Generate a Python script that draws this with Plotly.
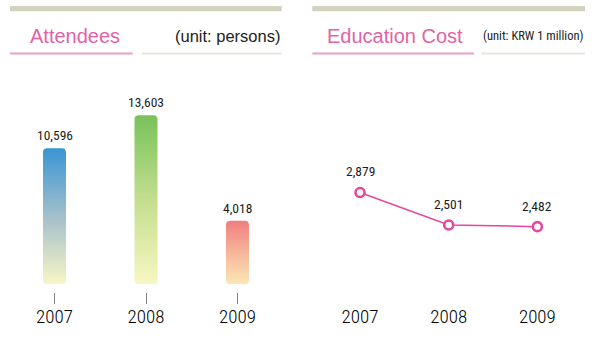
import math
import plotly.graph_objects as go

# ---- data ----
YEARS = ["2007", "2008", "2009"]
ATTENDEES = [10596, 13603, 4018]
EDU_COST = [2879, 2501, 2482]

# ---- styling ----
W, H = 594, 338
PINK = "#e4479b"
TITLE_PINK = "#e262a6"
BAR_GRADIENTS = [
    [[0, "#f8f6c6"], [0.5, "#a3bfcb"], [1, "#3a95d3"]],
    [[0, "#f8f7c2"], [0.5, "#c3de8e"], [1, "#78c25a"]],
    [[0, "#fce7b6"], [0.5, "#f6b69a"], [1, "#ee7e80"]],
]
NUM_FONT = "Roboto Condensed, Liberation Sans Narrow, DejaVu Sans Condensed, sans-serif"
TXT_FONT = "Liberation Sans, Arial, sans-serif"

# left value axis: bars rise from the bottom of the axis
LEFT_RANGE = [-1769, 14993]
RIGHT_RANGE = [1628.8, 3954.4]


def px_x(p):
    return p / W


def px_y(p):
    return 1 - p / H


fig = go.Figure()

# ---- gradient bars (rounded rectangles built from each value) ----
half_w = 0.1257
units_per_px_x = 1 / 91.5
units_per_px_y = (LEFT_RANGE[1] - LEFT_RANGE[0]) / 184.3
rx = 3.5 * units_per_px_x
ry = 3.5 * units_per_px_y


def rounded_rect(x0, x1, y0, y1):
    pts = []
    corners = [
        (x1 - rx, y1 - ry, 0, 90),
        (x0 + rx, y1 - ry, 90, 180),
        (x0 + rx, y0 + ry, 180, 270),
        (x1 - rx, y0 + ry, 270, 360),
    ]
    for cx, cy, a0, a1 in corners:
        for k in range(7):
            a = math.radians(a0 + (a1 - a0) * k / 6)
            pts.append((cx + rx * math.cos(a), cy + ry * math.sin(a)))
    pts.append(pts[0])
    return [p[0] for p in pts], [p[1] for p in pts]


label_font = dict(family=NUM_FONT, size=13.5, color="#1c1c1c", weight=400)

for i, (v, grad) in enumerate(zip(ATTENDEES, BAR_GRADIENTS)):
    xs, ys = rounded_rect(i - half_w, i + half_w, LEFT_RANGE[0], v)
    fig.add_trace(go.Scatter(
        x=xs, y=ys, mode="lines", fill="toself",
        line=dict(width=0, color="rgba(0,0,0,0)"),
        fillgradient=dict(type="vertical", colorscale=grad,
                          start=LEFT_RANGE[0], stop=v),
        hoverinfo="skip", showlegend=False,
        xaxis="x", yaxis="y",
    ))
    fig.add_annotation(
        x=i, y=v, xref="x", yref="y", text=f"{v:,}", showarrow=False,
        yanchor="middle", yshift=13, font=label_font,
    )

# ---- education cost line ----
fig.add_trace(go.Scatter(
    x=list(range(len(YEARS))), y=EDU_COST, mode="lines+markers",
    line=dict(color=PINK, width=1.5),
    marker=dict(symbol="circle", size=9, color="white",
                line=dict(color=PINK, width=2.6)),
    hoverinfo="skip", showlegend=False,
    xaxis="x2", yaxis="y2",
))
for i, v in enumerate(EDU_COST):
    fig.add_annotation(
        x=i, y=v, xref="x2", yref="y2", text=f"{v:,}", showarrow=False,
        yanchor="middle", yshift=21, font=label_font,
    )

# ---- header decorations ----
shapes = []


def rect(x0, x1, y0, y1, color):
    shapes.append(dict(type="rect", xref="paper", yref="paper",
                       x0=px_x(x0), x1=px_x(x1), y0=px_y(y1), y1=px_y(y0),
                       fillcolor=color, line=dict(width=0), layer="below"))


rect(10, 281.7, 6, 11.3, "#d3d1c0")
rect(312.3, 585, 6, 11.3, "#d3d1c0")
rect(10, 132.7, 52.6, 54.4, "#ee9dca")
rect(142, 281.7, 52.6, 54.4, "#e6e6de")
rect(312.3, 474, 52.6, 54.4, "#ee9dca")
rect(481, 585, 52.6, 54.4, "#e6e6de")

headers = [
    (28, "Attendees", "left", TXT_FONT, 20, TITLE_PINK),
    (281.5, "(unit: persons)", "right", TXT_FONT, 16.5, "#222222"),
    (325, "Education Cost", "left", TXT_FONT, 20, TITLE_PINK),
    (584.5, "(unit: KRW 1 million)", "right", NUM_FONT, 12.5, "#222222"),
]
for x, text, anchor, fam, size, color in headers:
    fig.add_annotation(
        x=px_x(x), y=px_y(36), xref="paper", yref="paper", text=text,
        showarrow=False, xanchor=anchor, yanchor="middle",
        font=dict(family=fam, size=size, color=color),
    )

axis_pos = px_y(291.7)
tick_font = dict(family=NUM_FONT, size=19, color="#000000", weight=300)

fig.update_layout(
    width=W, height=H,
    margin=dict(l=0, r=0, t=0, b=0),
    paper_bgcolor="white", plot_bgcolor="rgba(0,0,0,0)",
    shapes=shapes,
    xaxis=dict(domain=[px_x(8.75), px_x(283.25)], range=[-0.5, 2.5],
               anchor="free", position=axis_pos,
               tickvals=[0, 1, 2], ticktext=YEARS,
               ticks="outside", ticklen=11.6, tickwidth=1, tickcolor="#808080",
               ticklabelstandoff=-4,
               showline=False, showgrid=False, zeroline=False,
               tickfont=tick_font, fixedrange=True),
    yaxis=dict(domain=[px_y(284.3), px_y(100)], range=LEFT_RANGE,
               visible=False, fixedrange=True),
    xaxis2=dict(domain=[px_x(315.7), px_x(581.7)], range=[-0.5, 2.5],
                anchor="free", position=axis_pos,
                tickvals=[0, 1, 2], ticktext=YEARS,
                ticks="outside", ticklen=11.6, tickwidth=1,
                tickcolor="rgba(0,0,0,0)",
                ticklabelstandoff=-4,
                showline=False, showgrid=False, zeroline=False,
                tickfont=tick_font, fixedrange=True),
    yaxis2=dict(domain=[px_y(300), px_y(100)], range=RIGHT_RANGE,
                anchor="x2", visible=False, fixedrange=True),
)

fig.write_html("out.html")
